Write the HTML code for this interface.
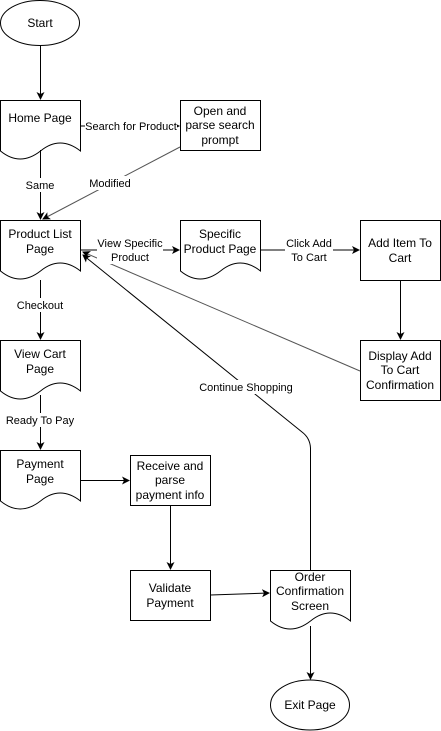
<!DOCTYPE html>
<html><head><meta charset="utf-8"><style>
html,body{margin:0;padding:0;background:#fff}
svg{display:block;font-family:"Liberation Sans",Arial,sans-serif}
</style></head><body>
<svg width="441" height="731" viewBox="0 0 441 731" xmlns="http://www.w3.org/2000/svg">
<defs>
<marker id="a" markerWidth="8" markerHeight="8" refX="7" refY="4" orient="auto" markerUnits="userSpaceOnUse">
<path d="M0,0 L8,4 L0,8 L2,4 Z" fill="#000"/></marker>
</defs>
<g fill="#fff" stroke="#000" stroke-width="1">
<ellipse cx="40" cy="23" rx="39.5" ry="22.5"/>
<path d="M0.5,100.5 H80.5 V151 Q60,135 40.5,151 Q20,167 0.5,151 Z"/>
<rect x="180.5" y="100.5" width="80" height="50"/>
<path d="M0.5,220.5 H80.5 V271 Q60,255 40.5,271 Q20,287 0.5,271 Z"/>
<path d="M180.5,220.5 H260.5 V271 Q240,255 220.5,271 Q200,287 180.5,271 Z"/>
<rect x="360.5" y="220.5" width="80" height="60"/>
<rect x="360.5" y="340.5" width="80" height="60"/>
<path d="M0.5,340.5 H80.5 V391 Q60,375 40.5,391 Q20,407 0.5,391 Z"/>
<path d="M0.5,450.5 H80.5 V501 Q60,485 40.5,501 Q20,517 0.5,501 Z"/>
<rect x="130.5" y="455.5" width="80" height="50"/>
<rect x="130.5" y="570.5" width="80" height="50"/>
<path d="M270.5,570.5 H350.5 V621 Q330,605 310.5,621 Q290,637 270.5,621 Z"/>
<ellipse cx="310" cy="705" rx="39.5" ry="25"/>
</g>
<g fill="none" stroke="#000" stroke-width="1">
<path d="M40.5,46 V99" marker-end="url(#a)"/>
<path d="M80.5,126 H179" marker-end="url(#a)"/>
<path d="M40.5,150 V219" marker-end="url(#a)"/>
<path d="M180,147 L43,219" stroke="#555" marker-end="url(#a)"/>
<path d="M80.5,250 H179" marker-end="url(#a)"/>
<path d="M260.5,250 H359" marker-end="url(#a)"/>
<path d="M400.5,280 V339" marker-end="url(#a)"/>
<path d="M360,371 L83,252" stroke="#555" marker-end="url(#a)"/>
<path d="M310.5,570 V448 Q310,438 302,432 L83,255" marker-end="url(#a)"/>
<path d="M40.5,280 V339" marker-end="url(#a)"/>
<path d="M40.5,395 V449" marker-end="url(#a)"/>
<path d="M80.5,480.5 H129" marker-end="url(#a)"/>
<path d="M170.5,505 V569" marker-end="url(#a)"/>
<path d="M210.5,595 L269,593" marker-end="url(#a)"/>
<path d="M310.5,626 V679" marker-end="url(#a)"/>
</g>
<g font-size="11" text-anchor="middle" fill="#000">
<rect x="85" y="119" width="92" height="14" fill="#fff"/>
<text x="131" y="130">Search for Product</text>
<rect x="25" y="178" width="30" height="14" fill="#fff"/>
<text x="40" y="189">Same</text>
<rect x="88" y="176" width="44" height="14" fill="#fff"/>
<text x="110" y="187">Modified</text>
<rect x="97" y="236" width="66" height="28" fill="#fff"/>
<text x="130" y="247">View Specific</text>
<text x="130" y="261">Product</text>
<rect x="285" y="236" width="48" height="28" fill="#fff"/>
<text x="309" y="247">Click Add</text>
<text x="309" y="261">To Cart</text>
<rect x="198" y="380" width="96" height="14" fill="#fff"/>
<text x="246" y="391">Continue Shopping</text>
<rect x="16" y="298" width="50" height="14" fill="#fff"/>
<text x="40" y="309">Checkout</text>
<rect x="6" y="413" width="70" height="14" fill="#fff"/>
<text x="40" y="424">Ready To Pay</text>
</g>
<g font-size="12" text-anchor="middle" fill="#000">
<text x="40" y="27">Start</text>
<text x="40" y="122">Home Page</text>
<text x="220" y="115">Open and</text><text x="220" y="129">parse search</text><text x="220" y="144">prompt</text>
<text x="40" y="238">Product List</text><text x="40" y="253">Page</text>
<text x="220" y="238">Specific</text><text x="220" y="253">Product Page</text>
<text x="400" y="247">Add Item To</text><text x="400" y="262">Cart</text>
<text x="400" y="360">Display Add</text><text x="400" y="374">To Cart</text><text x="400" y="389">Confirmation</text>
<text x="40" y="358">View Cart</text><text x="40" y="373">Page</text>
<text x="40" y="468">Payment</text><text x="40" y="483">Page</text>
<text x="170" y="470">Receive and</text><text x="170" y="484">parse</text><text x="170" y="499">payment info</text>
<text x="170" y="592">Validate</text><text x="170" y="607">Payment</text>
<text x="310" y="581">Order</text><text x="310" y="595">Confirmation</text><text x="310" y="610">Screen</text>
<text x="310" y="709">Exit Page</text>
</g>
</svg>
</body></html>
